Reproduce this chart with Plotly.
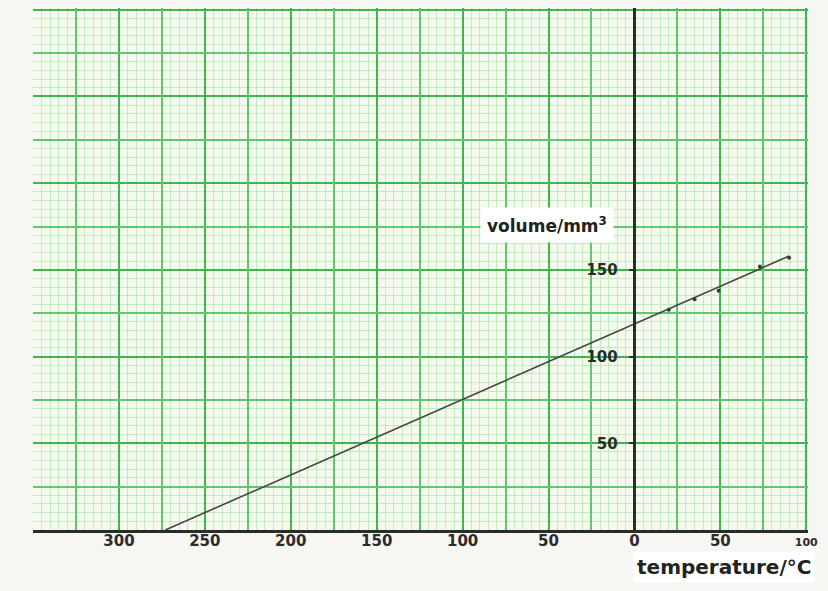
import numpy as np
import plotly.graph_objects as go

# ---- data ----
temps_measured = [20, 35, 49, 73, 90]          # °C
volumes_measured = [127, 133, 138, 152, 157]   # mm^3
fit_temps = [-273, 90]                          # extrapolated line
fit_volumes = [0, 158]

x_tick_vals = [-300, -250, -200, -150, -100, -50, 0, 50, 100]
x_tick_text = ["300", "250", "200", "150", "100", "50", "0", "50",
               "<span style='font-size:11px'>100</span>"]
y_tick_vals = [50, 100, 150]
y_tick_text = ["50", "100", "150"]

X_RANGE = [-350, 101]
Y_RANGE = [0, 301]

FINE = "#c3e9c0"
MED = "#62c66e"
THICK = "#3fb54e"
INK = "#2b2b2b"
FONT = "DejaVu Sans"

fig = go.Figure()

# invisible traces so the overlay axes render
fig.add_trace(go.Scatter(x=X_RANGE, y=Y_RANGE, mode="markers",
                         marker=dict(opacity=0), xaxis="x2", yaxis="y2",
                         hoverinfo="skip", showlegend=False))
fig.add_trace(go.Scatter(x=X_RANGE, y=Y_RANGE, mode="markers",
                         marker=dict(opacity=0), xaxis="x", yaxis="y3",
                         hoverinfo="skip", showlegend=False))

fig.add_trace(go.Scatter(x=fit_temps, y=fit_volumes, mode="lines",
                         line=dict(color="#4a4444", width=1.6),
                         showlegend=False))
fig.add_trace(go.Scatter(x=temps_measured, y=volumes_measured, mode="markers",
                         marker=dict(color="#3a3a3a", size=4, symbol="circle"),
                         showlegend=False))

med_x = list(np.arange(-325, 101, 50))
med_y = list(np.arange(25, 301, 50))

fig.update_layout(
    width=828, height=591,
    margin=dict(l=33, r=20, t=8, b=61),
    paper_bgcolor="#f6f6f3",
    plot_bgcolor="#f5faef",
    font=dict(family=FONT, color=INK),
    xaxis=dict(
        range=X_RANGE, tickmode="array", tickvals=x_tick_vals, ticktext=x_tick_text,
        showgrid=True, gridcolor=THICK, gridwidth=2,
        minor=dict(tickmode="linear", tick0=0, dtick=5, showgrid=True,
                   gridcolor=FINE, gridwidth=1),
        zeroline=False,
        showline=True, linecolor=INK, linewidth=3,
        ticks="", ticklabelstandoff=-5,
        tickfont=dict(family=FONT, size=15, color=INK, weight="bold"),
        fixedrange=True,
    ),
    xaxis2=dict(
        range=X_RANGE, overlaying="x", anchor="y", tickmode="array", tickvals=med_x,
        showticklabels=False, showgrid=True, gridcolor=MED, gridwidth=1.5,
        zeroline=False, showline=False, ticks="",
    ),
    yaxis=dict(
        range=Y_RANGE, tickmode="linear", tick0=0, dtick=50,
        showgrid=True, gridcolor=THICK, gridwidth=2,
        minor=dict(tickmode="linear", tick0=0, dtick=5, showgrid=True,
                   gridcolor=FINE, gridwidth=1),
        zeroline=False, showline=False, showticklabels=False, ticks="",
    ),
    yaxis2=dict(
        range=Y_RANGE, overlaying="y", anchor="x2", tickmode="array", tickvals=med_y,
        showticklabels=False, showgrid=True, gridcolor=MED, gridwidth=1.5,
        zeroline=False, showline=False, ticks="",
    ),
    yaxis3=dict(
        range=Y_RANGE, overlaying="y", anchor="free",
        position=(0 - X_RANGE[0]) / (X_RANGE[1] - X_RANGE[0]), side="left",
        tickmode="array", tickvals=y_tick_vals, ticktext=y_tick_text,
        showgrid=False, zeroline=False,
        showline=True, linecolor=INK, linewidth=2.5,
        ticks="outside", ticklen=5, tickwidth=1.5, tickcolor=INK,
        ticklabelstandoff=8,
        tickfont=dict(family=FONT, size=15, color=INK, weight="bold"),
    ),
    showlegend=False,
    annotations=[
        dict(text="volume/mm<sup>3</sup>", x=-51, y=176, xref="x", yref="y",
             showarrow=False, bgcolor="white", borderpad=6,
             font=dict(family=FONT, size=17, color="#222", weight="bold")),
        dict(text="temperature/°C", x=52, y=-0.07, xref="x", yref="paper",
             xanchor="center", yanchor="middle",
             showarrow=False, bgcolor="white", borderpad=3,
             font=dict(family=FONT, size=20, color="#222", weight="bold")),
    ],
)

fig.write_html("out.html",
               config={"displayModeBar": False},
               post_script="document.body.style.margin='0';"
                           "document.body.style.background='#f6f6f3';")
